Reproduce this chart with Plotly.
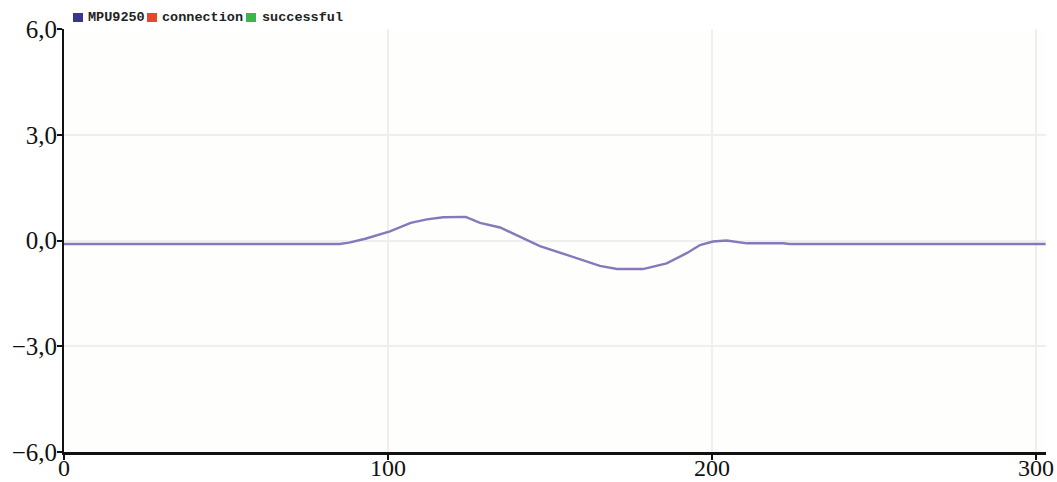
import plotly.graph_objects as go

# Sensor trace (x sample index, y value)
x_vals = [0, 85, 88, 93, 100.6, 107, 112, 117, 124, 128.4, 134.6, 140.7, 146.9, 155.2, 165.4, 170.7, 178.7, 186, 192.2, 196.3, 200.3, 204.5, 208.6, 210.8, 222, 224, 303]
y_vals = [-0.1, -0.1, -0.06, 0.05, 0.26, 0.5, 0.6, 0.66, 0.67, 0.5, 0.37, 0.11, -0.16, -0.41, -0.72, -0.81, -0.81, -0.65, -0.36, -0.13, -0.03, 0.0, -0.05, -0.08, -0.08, -0.1, -0.1]

legend_labels = ["MPU9250", "connection", "successful"]
legend_colors = ["#3b3591", "#e8472a", "#3cb54a"]

x_ticks = [0, 100, 200, 300]
y_ticks = [-6, -3, 0, 3, 6]

FW, FH = 1057, 482
PL, PR, PT, PB = 64, 1046, 29, 452
W, H = PR - PL, PB - PT

fig = go.Figure()
fig.add_trace(go.Scatter(x=x_vals, y=y_vals, mode="lines",
                         line=dict(color="#8778bb", width=2.4), showlegend=False))

# legend drawn as squares + text (pixel positions)
sq_x = [73, 147, 246]
txt_x = [86, 160, 260]
for lab, col, sx, tx in zip(legend_labels, legend_colors, sq_x, txt_x):
    fig.add_shape(type="rect", xref="paper", yref="paper",
                  x0=(sx - PL) / W, x1=(sx + 10 - PL) / W,
                  y0=(PB - 13) / H, y1=(PB - 22) / H,
                  fillcolor=col, line=dict(width=0))
    fig.add_annotation(text="<b>" + lab + "</b>", xref="paper", yref="paper",
                       x=(tx - PL) / W, y=(PB - 17.5) / H,
                       xanchor="left", yanchor="middle", showarrow=False,
                       font=dict(family="Liberation Mono", size=13.5, color="#222"))

fig.update_layout(
    width=FW, height=FH,
    margin=dict(l=PL, r=FW - PR, t=PT, b=FH - PB, autoexpand=False),
    paper_bgcolor="white", plot_bgcolor="#fefefc",
    separators=",.",
    font=dict(family="Liberation Serif", size=25, color="#111"),
    xaxis=dict(range=[0, 303.1], tickvals=x_ticks, showgrid=True, gridcolor="#efefef",
               gridwidth=1.5, zeroline=False, showline=True, linecolor="#111", linewidth=2.5,
               ticks="outside", ticklen=5, tickcolor="#111", tickwidth=1.5, automargin=False,
               ticklabelstandoff=-13, tickfont=dict(size=24)),
    yaxis=dict(range=[-6, 6], tickvals=y_ticks, tickformat=".1f", showgrid=True,
               gridcolor="#efefef", gridwidth=1.5, zeroline=False, showline=True,
               linecolor="#111", linewidth=2, ticks="outside", ticklen=5,
               tickcolor="#111", tickwidth=1.5, automargin=False, ticklabelstandoff=-5),
)

fig.write_html("out.html", config={"displayModeBar": False},
               post_script="document.body.style.margin='0';document.body.style.overflow='hidden';")
